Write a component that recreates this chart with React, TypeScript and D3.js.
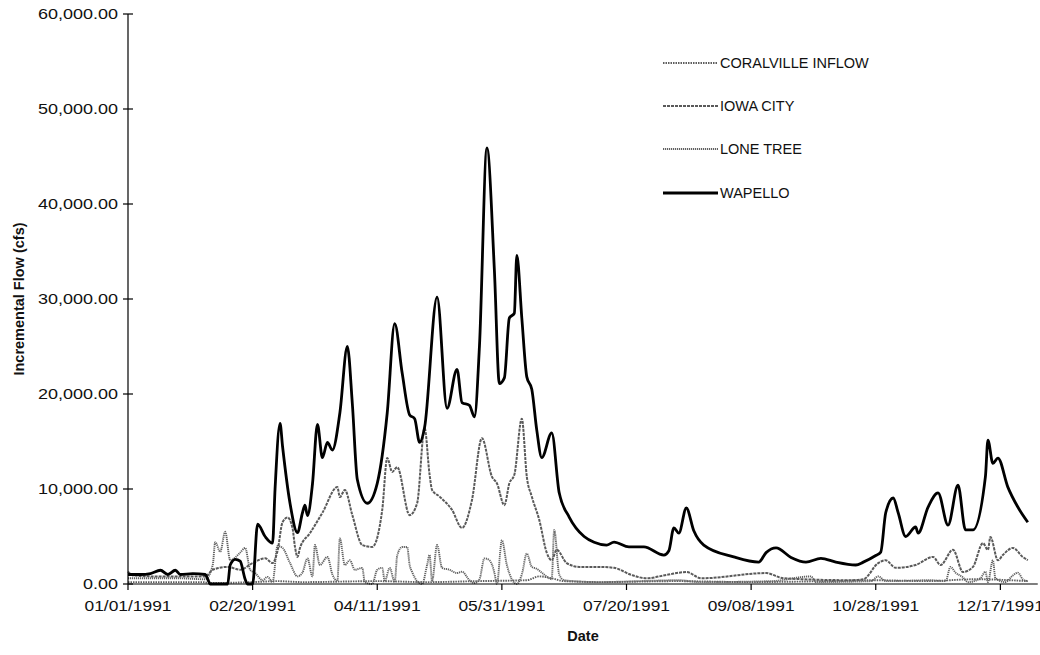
import React from "react";
import * as d3 from "d3";

// day-of-year offsets (from 01/01/1991) and flows (cfs)
const wapelloDays = [0,5,9,13,16,19,21,26,31,32,33,40,41,43,45,47,48,50,52,55,58,59,61,62,65,68,70,71,72,74,76,78,80,82,85,88,90,92,96,100,104,107,110,113,115,117,119,124,128,132,134,137,139,141,144,147,149,151,153,155,156,158,160,162,164,166,170,173,177,183,187,192,195,201,207,215,217,219,221,224,227,231,243,253,256,260,266,272,278,284,292,295,300,302,304,307,309,312,316,317,321,325,329,333,336,339,344,345,347,349,353,357,361];
const wapelloValues = [1000,1000,1100,1450,1000,1450,1000,1100,1000,500,0,0,2000,2600,2400,500,0,0,6300,5000,4300,10000,16900,14500,8500,5400,7500,8300,7200,10500,16800,13300,14900,14100,18000,25000,19000,11000,8500,10600,18000,27400,22200,17800,17400,14900,16500,30200,18500,22600,19100,18800,17600,25000,45900,33000,21100,21700,28000,28500,34600,28000,21800,20500,16200,13300,15900,9600,7050,5000,4400,4100,4400,3900,3900,3050,3500,5900,5350,8000,5600,4100,2850,2300,3300,3800,2800,2300,2700,2300,2000,2300,3000,3350,7500,9050,7500,5000,6000,5350,8100,9600,6200,10400,5700,5700,11300,15150,12700,13260,10200,8100,6500];

const iowaCityDays = [0,2,10,20,31,34,40,45,50,55,58,60,62,64,66,67,68,69,73,78,84,85,87,90,94,98,102,104,106,108,113,116,119,121,122,125,130,134,138,142,146,148,151,153,155,158,160,162,165,168,170,172,176,181,189,195,202,208,216,224,230,256,263,290,295,301,304,308,316,323,326,331,335,339,343,345,346,349,351,355,359,361];
const iowaCityValues = [1300,900,800,800,800,1500,1800,1500,2200,2700,2200,3500,6500,7000,5900,3900,2850,3800,5350,7500,10200,9150,9900,7250,4100,3900,7800,13260,11800,12300,7250,8500,16400,11500,9900,9200,7800,5900,8850,15350,11300,10600,8300,10600,11500,17400,11300,9200,6750,3300,2500,3600,2200,1800,1800,1700,950,600,950,1260,600,1150,600,400,500,2200,2500,1700,2000,2850,2000,3600,1260,1800,4300,3600,4950,2500,3050,3800,2850,2500];

const loneTreeDays = [0,20,31,34,35,37,39,41,45,47,49,51,54,56,58,60,62,65,68,70,72,74,75,77,80,82,84,85,87,89,91,94,95,98,100,102,103,105,107,108,110,112,113,114,116,118,120,121,122,124,126,129,132,134,137,139,141,143,145,147,148,150,152,154,156,158,160,162,164,166,169,170,171,173,175,179,189,205,221,229,258,274,276,298,301,304,322,328,330,332,335,337,342,344,345,347,348,352,355,357,359,361];
const loneTreeValues = [600,600,500,2000,4400,3400,5500,2500,3300,3800,1500,1150,400,750,200,4000,3800,2200,800,1200,2700,800,4100,2000,2850,1000,300,4800,2000,2500,1500,1700,200,0,1500,1700,300,1700,200,3000,3900,3900,2000,1260,300,0,2000,3050,300,4100,1700,1500,1150,1300,400,100,500,2700,2500,1200,0,4600,2000,500,0,1000,3200,1800,1600,1200,600,500,5700,1000,400,300,200,300,400,200,300,800,200,300,800,300,400,300,1800,1200,700,200,600,1300,200,2500,600,200,900,1200,500,300];

const coralvilleDays = [0,30,33,50,60,70,100,120,140,160,165,170,175,190,220,250,280,300,320,340,361];
const coralvilleValues = [200,200,100,200,300,200,300,200,300,400,800,600,300,200,300,200,300,400,300,500,300];

const yTicks = [0, 10000, 20000, 30000, 40000, 50000, 60000];
const xTickDays = [0, 50, 100, 150, 200, 250, 300, 350];
const seriesNames = ["CORALVILLE INFLOW", "IOWA CITY", "LONE TREE", "WAPELLO"];

const W = 1040, H = 655;
const start = new Date(1991, 0, 1);
const dayToDate = (d: number) => d3.timeDay.offset(start, d);

export default function App() {
  const x = d3.scaleTime().domain([start, dayToDate(365)]).range([128, 128 + 365 * 2.4925]);
  const y = d3.scaleLinear().domain([0, 60000]).range([584, 14]);
  const fmtY = d3.format(",.2f");
  const fmtX = d3.timeFormat("%m/%d/%Y");

  const line = d3.line<[number, number]>()
    .x(d => x(dayToDate(d[0])))
    .y(d => y(d[1]))
    .curve(d3.curveMonotoneX);

  const zip = (a: number[], b: number[]) => a.map((d, i) => [d, b[i]] as [number, number]);

  const series = [
    { name: seriesNames[0], data: zip(coralvilleDays, coralvilleValues), stroke: "#5e5e5e", width: 1.9, dash: "1.5,1" },
    { name: seriesNames[1], data: zip(iowaCityDays, iowaCityValues), stroke: "#5a5a5a", width: 2, dash: "3,1" },
    { name: seriesNames[2], data: zip(loneTreeDays, loneTreeValues), stroke: "#626262", width: 1.9, dash: "1.2,0.8" },
    { name: seriesNames[3], data: zip(wapelloDays, wapelloValues), stroke: "#000", width: 2.8, dash: "" },
  ];

  const font = "'Liberation Sans', Arial, Helvetica, sans-serif";
  const legendY = [63, 106, 149, 193];

  return (
    <svg width={W} height={H} style={{ position: "absolute", left: 0, top: 0, background: "#fff" }} fontFamily={font}>
      {/* series */}
      {series.map(s => (
        <path key={s.name} d={line(s.data) || ""} fill="none" stroke={s.stroke} strokeWidth={s.width}
          strokeDasharray={s.dash || undefined} strokeLinejoin="round" />
      ))}
      {/* axes */}
      <line x1={128} x2={128} y1={y(60000)} y2={y(0)} stroke="#000" strokeWidth={1.2} />
      <line x1={128} x2={x(dayToDate(365))} y1={y(0)} y2={y(0)} stroke="#000" strokeWidth={1.2} />
      {yTicks.map(t => (
        <g key={t}>
          <line x1={123} x2={133} y1={y(t)} y2={y(t)} stroke="#000" strokeWidth={1.2} />
          <text x={118} y={y(t)} dy="0.36em" textAnchor="end" fontSize={15} fill="#111"
            textLength={t === 0 ? 35 : 80} lengthAdjust="spacingAndGlyphs">{fmtY(t)}</text>
        </g>
      ))}
      {xTickDays.map(d => (
        <g key={d}>
          <line x1={x(dayToDate(d))} x2={x(dayToDate(d))} y1={584} y2={590} stroke="#000" strokeWidth={1.2} />
          <text x={x(dayToDate(d))} y={611} textAnchor="middle" fontSize={15} fill="#111"
            textLength={87} lengthAdjust="spacingAndGlyphs">{fmtX(dayToDate(d))}</text>
        </g>
      ))}
      <text x={583} y={641} textAnchor="middle" fontSize={14.5} fontWeight="bold" fill="#111">Date</text>
      <text transform={`translate(24,${(y(0) + y(60000)) / 2}) rotate(-90)`} textAnchor="middle" fontSize={14.5} fontWeight="bold" fill="#111">Incremental Flow (cfs)</text>
      {/* legend */}
      {series.map((s, i) => (
        <g key={s.name}>
          <line x1={663} x2={718} y1={legendY[i]} y2={legendY[i]} stroke={s.stroke} strokeWidth={s.width}
            strokeDasharray={s.dash || undefined} />
          <text x={720} y={legendY[i]} dy="0.36em" fontSize={14.5} fill="#111">{s.name}</text>
        </g>
      ))}
    </svg>
  );
}
